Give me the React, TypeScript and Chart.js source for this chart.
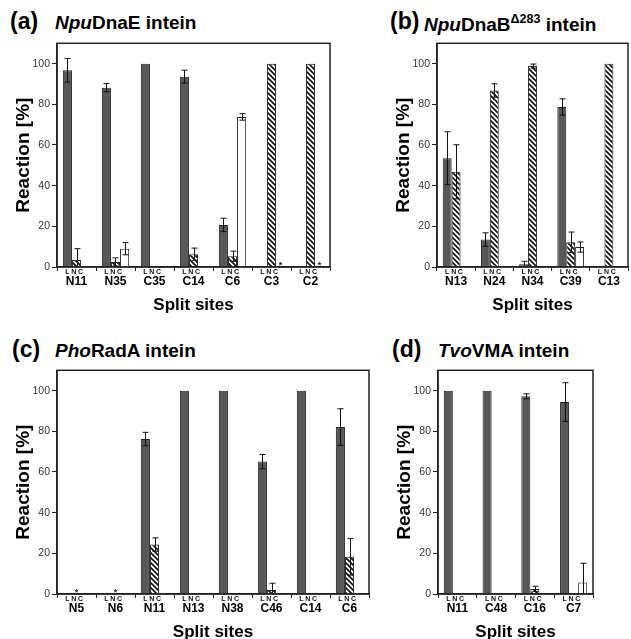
import React, { useEffect, useRef } from 'react';
import { Chart, registerables } from 'chart.js';
Chart.register(...registerables);

const FONT = '"Liberation Sans", Arial, Helvetica, sans-serif';

// ---- Panel (a) NpuDnaE ----
const aSites = ['N11', 'N35', 'C35', 'C14', 'C6', 'C3', 'C2'];
const aL = [96.7, 88.2, 100, 93.6, 20.7, 0, 0];
const aLErr = [5.8, 2.0, 0, 3.2, 3.3, 0, 0];
const aN = [3.5, 2.5, 0, 6.3, 5.3, 100, 100];
const aNErr = [5.5, 2.0, 0, 3.0, 2.5, 0, 0];
const aC = [0, 9.0, 0, 0, 73.8, 0, 0];
const aCErr = [0, 3.0, 0, 0, 1.6, 0, 0];
const aNStar = [0, 0, 0, 0, 0, 0, 0];
const aCStar = [0, 0, 0, 0, 0, 1, 1];

// ---- Panel (b) NpuDnaB Δ283 ----
const bSites = ['N13', 'N24', 'N34', 'C39', 'C13'];
const bL = [53.5, 13.5, 1.3, 78.7, 0];
const bLErr = [13.0, 3.3, 1.5, 4.0, 0];
const bN = [46.8, 86.8, 98.8, 12.2, 100];
const bNErr = [13.3, 3.3, 1.0, 5.0, 0];
const bC = [0, 0, 0, 9.8, 0];
const bCErr = [0, 0, 0, 2.5, 0];
const bNStar = [0, 0, 0, 0, 0];
const bCStar = [0, 0, 0, 0, 0];

// ---- Panel (c) PhoRadA ----
const cSites = ['N5', 'N6', 'N11', 'N13', 'N38', 'C46', 'C14', 'C6'];
const cL = [0, 0, 76.2, 100, 100, 65.1, 100, 82.1];
const cLErr = [0, 0, 3.3, 0, 0, 3.5, 0, 9.0];
const cN = [0, 0, 24.3, 0, 0, 2.0, 0, 18.3];
const cNErr = [0, 0, 3.3, 0, 0, 3.3, 0, 9.0];
const cC = [0, 0, 0, 0, 0, 0, 0, 0];
const cCErr = [0, 0, 0, 0, 0, 0, 0, 0];
const cNStar = [1, 1, 0, 0, 0, 0, 0, 0];
const cCStar = [0, 0, 0, 0, 0, 0, 0, 0];

// ---- Panel (d) TvoVMA ----
const dSites = ['N11', 'C48', 'C16', 'C7'];
const dL = [100, 100, 97.2, 94.4];
const dLErr = [0, 0, 1.2, 9.5];
const dN = [0, 0, 2.5, 0];
const dNErr = [0, 0, 1.3, 0];
const dC = [0, 0, 0, 5.6];
const dCErr = [0, 0, 0, 9.5];
const dNStar = [0, 0, 0, 0];
const dCStar = [0, 0, 0, 0];

const yTicksMax = 100;
const yAxisMax = 110;
const subLabels = ['L', 'N', 'C'];

type PanelDef = {
  sites: string[];
  L: number[]; LErr: number[];
  N: number[]; NErr: number[];
  C: number[]; CErr: number[];
  NStar: number[]; CStar: number[];
  left: number; top: number; width: number; height: number;
};

const panels: PanelDef[] = [
  { sites: aSites, L: aL, LErr: aLErr, N: aN, NErr: aNErr, C: aC, CErr: aCErr, NStar: aNStar, CStar: aCStar, left: 0, top: 35, width: 333, height: 282 },
  { sites: bSites, L: bL, LErr: bLErr, N: bN, NErr: bNErr, C: bC, CErr: bCErr, NStar: bNStar, CStar: bCStar, left: 380, top: 35, width: 251, height: 282 },
  { sites: cSites, L: cL, LErr: cLErr, N: cN, NErr: cNErr, C: cC, CErr: cCErr, NStar: cNStar, CStar: cCStar, left: 0, top: 362, width: 372, height: 282 },
  { sites: dSites, L: dL, LErr: dLErr, N: dN, NErr: dNErr, C: dC, CErr: dCErr, NStar: dNStar, CStar: dCStar, left: 381, top: 362, width: 215, height: 282 },
];

function makeHatch(): CanvasPattern | string {
  const n = 5;
  const c = document.createElement('canvas');
  c.width = n; c.height = n;
  const g = c.getContext('2d');
  if (!g) return '#888';
  g.fillStyle = '#fff';
  g.fillRect(0, 0, n, n);
  g.strokeStyle = '#111';
  g.lineWidth = 1.7;
  g.beginPath();
  for (const k of [-n, 0, n]) { g.moveTo(-1, k - 1); g.lineTo(n + 1, k + n + 1); }
  g.stroke();
  return g.createPattern(c, 'repeat') || '#888';
}

function Panel({ p }: { p: PanelDef }) {
  const ref = useRef<HTMLCanvasElement>(null);
  useEffect(() => {
    if (!ref.current) return;
    const hatch = makeHatch();
    const vals = [p.L, p.N, p.C];
    const errs = [p.LErr, p.NErr, p.CErr];
    const stars = [null, p.NStar, p.CStar];
    const decor = {
      id: 'decor',
      afterDatasetsDraw(chart: any) {
        const { ctx, chartArea: a, scales } = chart;
        const y = scales.y;
        ctx.save();
        // error bars
        ctx.strokeStyle = '#111';
        ctx.lineWidth = 1;
        for (let d = 0; d < 3; d++) {
          const meta = chart.getDatasetMeta(d);
          meta.data.forEach((bar: any, i: number) => {
            const e = errs[d][i];
            if (!e) return;
            const v = vals[d][i];
            const x = Math.round(bar.x) + 0.5;
            const y1 = y.getPixelForValue(v + e);
            const lo = v - e;
            const y2 = y.getPixelForValue(Math.max(0, lo));
            ctx.beginPath();
            ctx.moveTo(x, y1); ctx.lineTo(x, y2);
            ctx.moveTo(x - 3, y1); ctx.lineTo(x + 3, y1);
            if (lo > 0) { ctx.moveTo(x - 3, y2); ctx.lineTo(x + 3, y2); }
            ctx.stroke();
          });
        }
        // not-determined asterisks
        ctx.fillStyle = '#222';
        ctx.font = `bold 9px ${FONT}`;
        ctx.textAlign = 'center';
        ctx.textBaseline = 'alphabetic';
        for (let d = 1; d < 3; d++) {
          const st = stars[d] as number[];
          const meta = chart.getDatasetMeta(d);
          meta.data.forEach((bar: any, i: number) => {
            if (st[i]) ctx.fillText('*', bar.x, y.getPixelForValue(0) + 1);
          });
        }
        // box
        ctx.strokeStyle = '#222';
        ctx.lineWidth = 1.5;
        ctx.strokeRect(a.left, a.top, a.right - a.left, a.bottom - a.top);
        ctx.restore();
      },
      afterDraw(chart: any) {
        const { ctx, chartArea: a } = chart;
        ctx.save();
        ctx.fillStyle = '#111';
        ctx.font = `bold 7px ${FONT}`;
        ctx.textAlign = 'center';
        ctx.textBaseline = 'middle';
        const meta = chart.getDatasetMeta(0);
        const offs = [0, 6.5, 13.2];
        meta.data.forEach((bar: any) => {
          subLabels.forEach((s, k) => ctx.fillText(s, bar.x + offs[k], a.bottom + 5.5));
        });
        ctx.restore();
      },
    };
    const chart = new Chart(ref.current, {
      type: 'bar',
      data: {
        labels: p.sites,
        datasets: [
          { label: 'L', data: p.L, backgroundColor: '#585858', borderColor: '#222', borderWidth: 1 },
          { label: 'N', data: p.N, backgroundColor: hatch as any, borderColor: '#222', borderWidth: 1 },
          { label: 'C', data: p.C, backgroundColor: '#ffffff', borderColor: '#222', borderWidth: 1 },
        ],
      },
      options: {
        responsive: false,
        animation: false,
        layout: { padding: { top: 8, right: 3, left: 0, bottom: 0 } },
        datasets: { bar: { categoryPercentage: 0.7, barPercentage: 1 } } as any,
        plugins: { legend: { display: false }, tooltip: { enabled: false }, title: { display: false } },
        scales: {
          x: {
            offset: true,
            grid: { display: true, drawOnChartArea: false, drawTicks: true, tickLength: 4, color: '#222', offset: true },
            border: { display: true, color: '#222', width: 1.5 },
            ticks: { color: '#000', font: { family: FONT, size: 12, weight: 'bold', lineHeight: 1 }, padding: 4.5, maxRotation: 0, autoSkip: false },
            title: { display: true, text: 'Split sites', color: '#000', font: { family: FONT, size: 17, weight: 'bold' }, padding: { top: 0, bottom: 1 } },
            afterFit: (s: any) => { s.height = 50; },
          },
          y: {
            min: 0,
            max: yAxisMax,
            ticks: { stepSize: 20, color: '#333', font: { family: FONT, size: 10.5 }, padding: 2 },
            grid: { drawOnChartArea: false, tickLength: 5, color: '#222' },
            border: { display: true, color: '#222', width: 1.5 },
            title: { display: true, text: 'Reaction [%]', color: '#000', font: { family: FONT, size: 19, weight: 'bold' }, padding: { top: 12, bottom: 0 } },
            afterFit: (s: any) => { s.width = 57; },
            afterBuildTicks: (s: any) => { s.ticks = s.ticks.filter((t: any) => t.value <= yTicksMax); },
          },
        },
      } as any,
      plugins: [decor],
    });
    return () => chart.destroy();
  }, [p]);
  return (
    <canvas
      ref={ref}
      width={p.width}
      height={p.height}
      style={{ position: 'absolute', left: p.left, top: p.top, width: p.width, height: p.height }}
    />
  );
}

const lbl: React.CSSProperties = { position: 'absolute', fontFamily: FONT, fontWeight: 'bold', lineHeight: 1, whiteSpace: 'nowrap', color: '#000' };

export default function App() {
  return (
    <div style={{ position: 'absolute', left: 0, top: 0, width: 631, height: 639, overflow: 'hidden', background: '#fff' }}>
      {panels.map((p, i) => <Panel key={i} p={p} />)}
      <span style={{ ...lbl, left: 10, top: 9.5, fontSize: 23 }}>(a)</span>
      <span style={{ ...lbl, left: 55, top: 12.9, fontSize: 19 }}><i>Npu</i>DnaE intein</span>
      <span style={{ ...lbl, left: 390, top: 9.5, fontSize: 23 }}>(b)</span>
      <span style={{ ...lbl, left: 424, top: 12.9, fontSize: 19 }}>
        <i>Npu</i>DnaB<span style={{ fontSize: 12.5, verticalAlign: 8 }}>Δ283</span> intein
      </span>
      <span style={{ ...lbl, left: 12, top: 337.5, fontSize: 23 }}>(c)</span>
      <span style={{ ...lbl, left: 55, top: 341.4, fontSize: 19 }}><i>Pho</i>RadA intein</span>
      <span style={{ ...lbl, left: 392, top: 337.5, fontSize: 23 }}>(d)</span>
      <span style={{ ...lbl, left: 438, top: 341.4, fontSize: 19 }}><i>Tvo</i>VMA intein</span>
    </div>
  );
}
